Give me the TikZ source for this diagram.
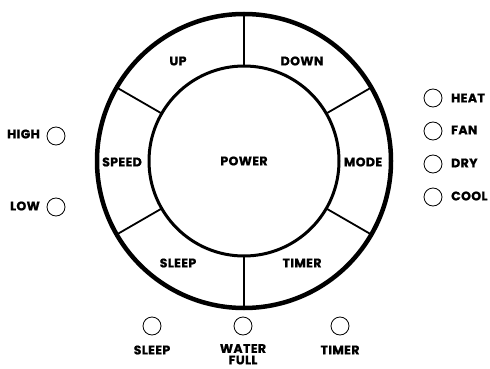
\documentclass[tikz,border=0pt]{standalone}
\usepackage{fontspec}
\setmainfont{Poppins}
\usetikzlibrary{calc}
\begin{document}
\begin{tikzpicture}[x=1pt,y=-1pt,
  lbl/.style={font=\fontsize{12.5}{13}\selectfont\bfseries\addfontfeatures{LetterSpace=3,FakeBold=1}, inner sep=0pt},
  led/.style={circle, draw, line width=0.8pt, minimum size=18pt, inner sep=0pt},
  seg/.style={line width=1.8pt}]
\useasboundingbox (0,0) rectangle (490,369);
\coordinate (c) at (244,161);
\draw[line width=4.5pt] (c) circle[radius=147];
\draw[line width=3pt] (c) circle[radius=95];
\foreach \a in {90,150,210,270,330,30}
  \draw[seg] ($(c)+(\a:96)$) -- ($(c)+(\a:146)$);
\node[lbl] (power) at (c) {POWER};
\node[lbl] (up) at (178,61) {UP};
\node[lbl] (down) at (302,61) {DOWN};
\node[lbl] (speed) at (122,162) {SPEED};
\node[lbl] (mode) at (363,162) {MODE};
\node[lbl] (sleep) at (178,263) {SLEEP};
\node[lbl] (timer) at (302,263) {TIMER};
% left indicators
\node[led] (high) at (56,136) {};
\node[lbl, anchor=east] (highl) at (40,134) {HIGH};
\node[led] (low) at (56,207) {};
\node[lbl, anchor=east] (lowl) at (40,206) {LOW};
% right indicators
\node[led] (heat) at (433,98) {};
\node[lbl, anchor=west] (heatl) at (451,98) {HEAT};
\node[led] (fan) at (433,131) {};
\node[lbl, anchor=west] (fanl) at (451,130) {FAN};
\node[led] (dry) at (433,164) {};
\node[lbl, anchor=west] (dryl) at (451,163) {DRY};
\node[led] (cool) at (433,197) {};
\node[lbl, anchor=west] (cooll) at (451,196) {COOL};
% bottom indicators
\node[led] (bsleep) at (152,326) {};
\node[lbl] (bsleepl) at (152,350) {SLEEP};
\node[led] (water) at (243,326) {};
\node[lbl] (waterl) at (243,348.5) {WATER};
\node[lbl] (fulll) at (243,360) {FULL};
\node[led] (btimer) at (340,326) {};
\node[lbl] (btimerl) at (340,350) {TIMER};
\end{tikzpicture}
\end{document}
